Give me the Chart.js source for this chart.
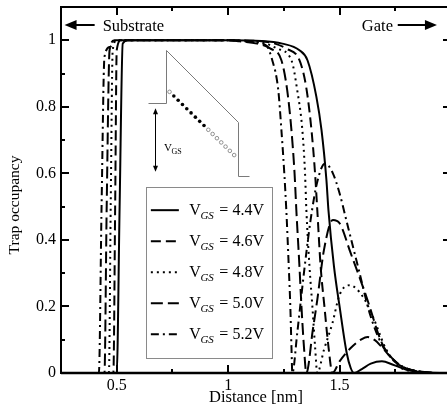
<!DOCTYPE html>
<html>
<head>
<meta charset="utf-8">
<script src="https://cdn.jsdelivr.net/npm/chart.js@4/dist/chart.umd.min.js"></script>
<style>
  html, body { margin: 0; padding: 0; background: #fff; overflow: hidden; }
  #wrap { width: 460px; height: 410px; }
</style>
</head>
<body>
<div id="wrap"><canvas id="chart" width="460" height="410"></canvas></div>
<script>
// Trap occupancy vs distance, one pair of arrays per gate voltage
const dist44 = [0.25, 0.50, 0.513, 0.527, 0.55, 0.8, 1.0, 1.15, 1.243, 1.32, 1.356, 1.396, 1.419, 1.441, 1.45, 1.475, 1.5, 1.532, 1.55, 1.565, 1.6, 1.64, 1.69, 1.74, 1.8, 1.86, 1.95, 2.0];
const occ44  = [0, 0, 0.5, 0.99, 1.0, 1.0, 1.0, 0.998, 0.99, 0.97, 0.94, 0.83, 0.73, 0.58, 0.49, 0.32, 0.2, 0.06, 0.015, 0, 0.012, 0.028, 0.035, 0.025, 0.01, 0.003, 0, 0];

const dist46 = [0.25, 0.485, 0.493, 0.50, 0.52, 0.8, 1.0, 1.15, 1.21, 1.26, 1.32, 1.35, 1.374, 1.39, 1.40, 1.415, 1.432, 1.45, 1.468, 1.5, 1.55, 1.6, 1.626, 1.66, 1.688, 1.755, 1.8, 1.86, 1.95, 2.0];
const occ46  = [0, 0, 0.5, 0.97, 1.0, 1.0, 1.0, 0.997, 0.99, 0.975, 0.94, 0.86, 0.73, 0.6, 0.49, 0.32, 0.2, 0.08, 0, 0.035, 0.075, 0.102, 0.108, 0.098, 0.079, 0.03, 0.014, 0.004, 0, 0];

const dist48 = [0.25, 0.465, 0.473, 0.482, 0.50, 0.8, 1.0, 1.1, 1.17, 1.22, 1.284, 1.31, 1.333, 1.345, 1.351, 1.365, 1.378, 1.39, 1.40, 1.43, 1.468, 1.5, 1.545, 1.604, 1.649, 1.71, 1.77, 1.83, 1.92, 2.0];
const occ48  = [0, 0, 0.5, 0.97, 1.0, 1.0, 1.0, 0.997, 0.99, 0.975, 0.94, 0.85, 0.73, 0.6, 0.49, 0.32, 0.2, 0.08, 0, 0.07, 0.15, 0.235, 0.264, 0.23, 0.17, 0.07, 0.018, 0.005, 0, 0];

const dist50 = [0.25, 0.445, 0.455, 0.468, 0.49, 0.8, 1.0, 1.05, 1.13, 1.19, 1.239, 1.265, 1.284, 1.298, 1.306, 1.32, 1.329, 1.34, 1.351, 1.38, 1.40, 1.43, 1.47, 1.5, 1.55, 1.62, 1.69, 1.75, 1.8, 1.87, 1.95, 2.0];
const occ50  = [0, 0, 0.5, 0.97, 1.0, 1.0, 1.0, 0.997, 0.99, 0.975, 0.94, 0.85, 0.73, 0.6, 0.49, 0.32, 0.2, 0.08, 0, 0.13, 0.22, 0.37, 0.46, 0.45, 0.36, 0.23, 0.09, 0.035, 0.014, 0.004, 0, 0];

const dist52 = [0.25, 0.42, 0.432, 0.445, 0.47, 0.50, 0.8, 1.0, 1.1, 1.17, 1.198, 1.225, 1.239, 1.252, 1.261, 1.272, 1.279, 1.284, 1.288, 1.31, 1.34, 1.37, 1.40, 1.435, 1.47, 1.5, 1.53, 1.59, 1.635, 1.69, 1.75, 1.8, 1.87, 1.95, 2.0];
const occ52  = [0, 0, 0.5, 0.95, 0.98, 1.0, 1.0, 1.0, 0.995, 0.985, 0.94, 0.85, 0.73, 0.6, 0.49, 0.32, 0.2, 0.08, 0, 0.12, 0.3, 0.46, 0.575, 0.63, 0.6, 0.54, 0.46, 0.3, 0.18, 0.085, 0.035, 0.014, 0.004, 0, 0];

const voltages = ['4.4', '4.6', '4.8', '5.0', '5.2'];

// Axis ticks
const xTicks = [0.5, 1, 1.5, 2];
const xTickLabels = ['0.5', '1', '1.5', '2'];
const xMinor = [0.75, 1.25, 1.75];
const yTicks = [0, 0.2, 0.4, 0.6, 0.8, 1];
const yTickLabels = ['0', '0.2', '0.4', '0.6', '0.8', '1'];
const yMinor = [0.1, 0.3, 0.5, 0.7, 0.9];

const FONT = '"Liberation Serif", "Times New Roman", serif';

const zip = (xs, ys) => xs.map((v, i) => ({ x: v, y: ys[i] }));

// line styles for each voltage
const dashes = [[], [10, 5], [2, 4], [12, 5], [8, 4, 2, 4]];
const series = [zip(dist44, occ44), zip(dist46, occ46), zip(dist48, occ48), zip(dist50, occ50), zip(dist52, occ52)];

const datasets = series.map((pts, i) => ({
  label: 'VGS = ' + voltages[i] + 'V',
  data: pts,
  borderColor: '#000',
  borderWidth: 2,
  borderDash: dashes[i],
  pointRadius: 0,
  fill: false,
  cubicInterpolationMode: 'monotone'
}));

function arrowHead(ctx, x, y, dx, dy, len, half) {
  // dx,dy: unit direction the arrow points to
  ctx.beginPath();
  ctx.moveTo(x, y);
  ctx.lineTo(x - dx * len - dy * half, y - dy * len + dx * half);
  ctx.lineTo(x - dx * len + dy * half, y - dy * len - dx * half);
  ctx.closePath();
  ctx.fill();
}

function drawVgs(ctx, left, base, size, subSize, italic, rest) {
  ctx.textAlign = 'left';
  ctx.textBaseline = 'alphabetic';
  ctx.font = size + 'px ' + FONT;
  ctx.fillText('V', left, base);
  let w = ctx.measureText('V').width;
  ctx.font = (italic ? 'italic ' : '') + subSize + 'px ' + FONT;
  ctx.fillText('GS', left + w - 0.5, base + subSize * 0.35);
  w += ctx.measureText('GS').width;
  if (rest) {
    ctx.font = size + 'px ' + FONT;
    ctx.fillText(rest, left + w + 1, base);
  }
}

const decorPlugin = {
  id: 'decor',
  afterDraw(chart) {
    const { ctx, chartArea: a, scales: { x, y } } = chart;
    const px = v => x.getPixelForValue(v);
    const py = v => y.getPixelForValue(v);
    ctx.save();

    // band diagram inset (gray)
    ctx.strokeStyle = '#7a7a7a';
    ctx.lineWidth = 1;
    const stepX = [0.641, 0.719, 0.719, 1.046, 1.046, 1.095];
    const stepY = [0.81, 0.81, 0.97, 0.755, 0.592, 0.592];
    ctx.beginPath();
    stepX.forEach((v, i) => {
      const X = Math.round(px(v)) + 0.5, Y = Math.round(py(stepY[i])) + 0.5;
      if (i === 0) ctx.moveTo(X, Y); else ctx.lineTo(X, Y);
    });
    ctx.stroke();

    // trap dots along the oxide
    const d0 = { x: 0.737, y: 0.845 }, d1 = { x: 1.027, y: 0.655 };
    const filled = [0, 1, 1, 1, 1, 1, 1, 1, 1, 0, 0, 0, 0, 0, 0, 0];
    filled.forEach((f, i) => {
      const t = i / (filled.length - 1);
      const X = px(d0.x + (d1.x - d0.x) * t), Y = py(d0.y + (d1.y - d0.y) * t);
      ctx.beginPath();
      ctx.arc(X, Y, 1.8, 0, Math.PI * 2);
      if (f) { ctx.fillStyle = '#000'; ctx.fill(); }
      else { ctx.strokeStyle = '#777'; ctx.lineWidth = 0.8; ctx.stroke(); }
    });

    // V_GS double arrow
    ctx.strokeStyle = '#000';
    ctx.fillStyle = '#000';
    ctx.lineWidth = 1;
    const ax = Math.round(px(0.671)) + 0.5, ay0 = py(0.796), ay1 = py(0.605);
    ctx.beginPath();
    ctx.moveTo(ax, ay0 + 3);
    ctx.lineTo(ax, ay1 - 3);
    ctx.stroke();
    arrowHead(ctx, ax, ay0, 0, -1, 6, 2.5);
    arrowHead(ctx, ax, ay1, 0, 1, 6, 2.5);
    drawVgs(ctx, px(0.712), py(0.666), 11, 8, false, '');

    // legend box
    const lx0 = px(0.633), lx1 = px(1.2005), ly0 = py(0.56), ly1 = py(0.045);
    ctx.fillStyle = '#fff';
    ctx.fillRect(lx0, ly0, lx1 - lx0, ly1 - ly0);
    ctx.strokeStyle = '#8a8a8a';
    ctx.lineWidth = 1;
    ctx.strokeRect(Math.round(lx0) + 0.5, Math.round(ly0) + 0.5, Math.round(lx1 - lx0), Math.round(ly1 - ly0));
    voltages.forEach((v, i) => {
      const base = ly0 + 28.5 + i * 31;
      ctx.strokeStyle = '#000';
      ctx.lineWidth = 2;
      ctx.setLineDash(dashes[i]);
      ctx.beginPath();
      ctx.moveTo(lx0 + 4.5, base - 5);
      ctx.lineTo(lx0 + 32.5, base - 5);
      ctx.stroke();
      ctx.setLineDash([]);
      ctx.fillStyle = '#000';
      drawVgs(ctx, lx0 + 43, base, 16, 11, true, ' = ' + v + 'V');
    });

    // Substrate / Gate arrows
    ctx.fillStyle = '#000';
    ctx.strokeStyle = '#000';
    ctx.lineWidth = 2;
    const ty = Math.round(py(1.045));
    ctx.beginPath();
    ctx.moveTo(px(0.401), ty);
    ctx.lineTo(px(0.266) + 6, ty);
    ctx.moveTo(px(1.761), ty);
    ctx.lineTo(px(1.937) - 6, ty);
    ctx.stroke();
    arrowHead(ctx, px(0.266), ty, -1, 0, 12, 5);
    arrowHead(ctx, px(1.937), ty, 1, 0, 12, 5);
    ctx.font = '16.5px ' + FONT;
    ctx.textAlign = 'left';
    ctx.textBaseline = 'alphabetic';
    ctx.fillText('Substrate', px(0.437), ty + 6);
    ctx.fillText('Gate', px(1.6), ty + 6);

    // frame
    ctx.lineWidth = 2;
    ctx.strokeStyle = '#000';
    ctx.strokeRect(a.left, a.top, a.right - a.left, a.bottom - a.top);
    ctx.lineWidth = 2.5;
    ctx.beginPath();
    ctx.moveTo(a.left, a.bottom);
    ctx.lineTo(a.right, a.bottom);
    ctx.stroke();

    // inward ticks on all four sides
    ctx.lineWidth = 2;
    ctx.beginPath();
    const xt = (v, len) => {
      const X = Math.round(px(v));
      ctx.moveTo(X, a.bottom); ctx.lineTo(X, a.bottom - len);
      ctx.moveTo(X, a.top); ctx.lineTo(X, a.top + len);
    };
    const yt = (v, len) => {
      const Y = Math.round(py(v));
      ctx.moveTo(a.left, Y); ctx.lineTo(a.left + len, Y);
      ctx.moveTo(a.right, Y); ctx.lineTo(a.right - len, Y);
    };
    xTicks.forEach(v => xt(v, 8));
    xMinor.forEach(v => xt(v, 4));
    yTicks.forEach(v => yt(v, 8));
    yMinor.forEach(v => yt(v, 4));
    ctx.stroke();

    // axis titles
    ctx.fillStyle = '#000';
    ctx.font = '16.5px ' + FONT;
    ctx.textAlign = 'center';
    ctx.fillText('Distance [nm]', (a.left + a.right) / 2, 402);
    ctx.save();
    ctx.translate(19, 205);
    ctx.rotate(-Math.PI / 2);
    ctx.font = '15.5px ' + FONT;
    ctx.fillText('Trap occupancy', 0, 0);
    ctx.restore();

    ctx.restore();
  }
};

new Chart(document.getElementById('chart'), {
  type: 'line',
  data: { datasets },
  options: {
    responsive: false,
    animation: false,
    layout: { padding: { left: 0, right: 9, top: 7, bottom: 0 } },
    plugins: { legend: { display: false }, tooltip: { enabled: false } },
    scales: {
      x: {
        type: 'linear',
        min: 0.25,
        max: 2,
        grid: { display: false, drawTicks: false },
        border: { display: false },
        afterBuildTicks: s => { s.ticks = xTicks.map(v => ({ value: v })); },
        afterFit: s => { s.height = 37; s.paddingLeft = 0; s.paddingRight = 0; },
        ticks: {
          color: '#000',
          padding: 3,
          maxRotation: 0,
          autoSkip: false,
          font: { family: FONT, size: 16 },
          callback: (v, i) => xTickLabels[i]
        }
      },
      y: {
        type: 'linear',
        min: 0,
        max: 1.1,
        grid: { display: false, drawTicks: false },
        border: { display: false },
        afterBuildTicks: s => { s.ticks = yTicks.map(v => ({ value: v })); },
        afterFit: s => { s.width = 61; s.paddingTop = 0; s.paddingBottom = 0; },
        ticks: {
          color: '#000',
          padding: 5,
          autoSkip: false,
          font: { family: FONT, size: 16 },
          callback: (v, i) => yTickLabels[i]
        }
      }
    }
  },
  plugins: [decorPlugin]
});
</script>
</body>
</html>
